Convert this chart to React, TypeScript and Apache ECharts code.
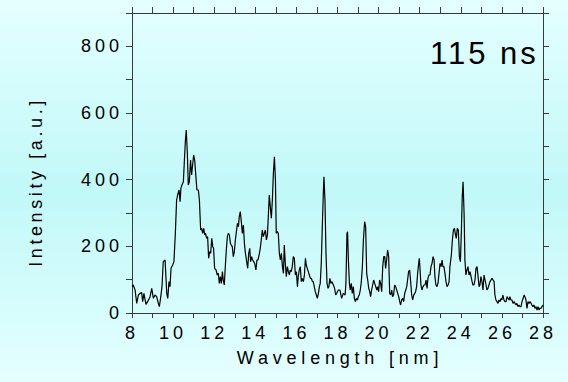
import React, { useEffect, useRef } from "react";
import * as echarts from "echarts";

// Spectrum readings [wavelength nm, intensity a.u.] in segments
const spectrum8to12: [number, number][] = [
  [8.0, 80], [8.06, 84], [8.15, 69], [8.23, 29], [8.31, 54], [8.39, 59], [8.47, 61], [8.52, 34],
  [8.58, 59], [8.68, 26], [8.76, 34], [8.88, 49], [8.96, 74], [9.04, 44], [9.12, 54], [9.2, 49],
  [9.28, 29], [9.33, 19], [9.39, 44], [9.46, 79], [9.52, 154], [9.61, 159], [9.69, 59], [9.74, 44],
  [9.8, 94], [9.85, 79], [9.9, 134], [9.98, 144], [10.04, 154], [10.11, 239], [10.17, 339], [10.22, 354],
  [10.29, 369], [10.34, 334], [10.38, 374], [10.43, 384], [10.5, 394], [10.55, 459], [10.6, 519], [10.64, 549],
  [10.69, 484], [10.74, 384], [10.79, 394], [10.85, 459], [10.9, 414], [10.95, 444], [11.0, 474], [11.05, 459],
  [11.11, 409], [11.16, 369], [11.23, 369], [11.28, 339], [11.34, 249], [11.39, 254], [11.44, 239], [11.49, 254],
  [11.54, 234], [11.58, 239], [11.63, 224], [11.68, 229], [11.73, 164], [11.78, 184], [11.83, 179], [11.88, 224],
  [11.93, 199], [11.97, 194],
];
const spectrum12to16: [number, number][] = [
  [12.02, 134], [12.09, 129], [12.15, 114], [12.2, 119], [12.25, 89], [12.3, 109], [12.35, 89], [12.4, 124],
  [12.44, 99], [12.49, 84], [12.54, 139], [12.59, 189], [12.64, 229], [12.69, 239], [12.74, 234], [12.79, 209],
  [12.83, 204], [12.88, 199], [12.93, 169], [12.98, 184], [13.03, 219], [13.08, 244], [13.13, 269], [13.18, 259],
  [13.22, 289], [13.27, 304], [13.32, 274], [13.37, 239], [13.42, 264], [13.47, 209], [13.51, 184], [13.58, 154],
  [13.63, 134], [13.68, 179], [13.73, 194], [13.77, 154], [13.82, 169], [13.87, 159], [13.92, 154], [13.97, 149],
  [14.03, 129], [14.08, 159], [14.13, 159], [14.2, 179], [14.24, 194], [14.29, 219], [14.34, 249], [14.39, 229],
  [14.44, 239], [14.49, 249], [14.54, 219], [14.59, 234], [14.64, 299], [14.68, 354], [14.73, 319], [14.78, 284],
  [14.83, 339], [14.88, 419], [14.93, 469], [14.98, 399], [15.02, 239], [15.07, 244], [15.12, 239], [15.17, 179],
  [15.22, 159], [15.27, 179], [15.32, 139], [15.37, 119], [15.41, 204], [15.46, 149], [15.51, 109], [15.56, 139],
  [15.61, 124], [15.66, 114], [15.7, 129], [15.75, 124], [15.8, 139], [15.85, 169], [15.9, 164], [15.95, 114],
];
const spectrum16to20: [number, number][] = [
  [16.0, 124], [16.05, 79], [16.09, 109], [16.14, 129], [16.19, 139], [16.24, 94], [16.29, 104], [16.34, 94],
  [16.39, 114], [16.44, 164], [16.48, 144], [16.53, 134], [16.58, 124], [16.63, 114], [16.68, 104], [16.73, 104],
  [16.78, 94], [16.82, 94], [16.87, 79], [16.92, 64], [16.97, 54], [17.02, 44], [17.07, 59], [17.12, 79],
  [17.16, 89], [17.21, 149], [17.26, 259], [17.31, 359], [17.34, 409], [17.39, 339], [17.44, 179], [17.49, 89],
  [17.54, 74], [17.58, 79], [17.63, 104], [17.68, 89], [17.73, 94], [17.8, 84], [17.86, 74], [17.91, 54],
  [17.96, 59], [18.04, 69], [18.12, 69], [18.2, 44], [18.28, 59], [18.37, 54], [18.41, 89], [18.46, 239],
  [18.49, 244], [18.53, 159], [18.58, 89], [18.62, 69], [18.67, 89], [18.72, 59], [18.77, 79], [18.82, 44],
  [18.87, 34], [18.92, 44], [18.97, 39], [19.01, 49], [19.06, 54], [19.11, 69], [19.16, 94], [19.21, 139],
  [19.26, 219], [19.32, 274], [19.37, 259], [19.42, 119], [19.47, 99], [19.52, 74], [19.57, 64], [19.61, 49],
  [19.66, 69], [19.71, 84], [19.76, 99], [19.81, 89], [19.86, 79], [19.91, 69], [19.95, 79],
];
const spectrum20to24: [number, number][] = [
  [20.0, 64], [20.05, 99], [20.1, 89], [20.15, 64], [20.2, 139], [20.25, 169], [20.3, 169], [20.34, 134],
  [20.39, 159], [20.44, 189], [20.49, 169], [20.54, 59], [20.59, 54], [20.64, 69], [20.68, 49], [20.73, 54],
  [20.78, 84], [20.83, 79], [20.88, 69], [20.93, 59], [20.98, 49], [21.03, 34], [21.07, 24], [21.12, 39],
  [21.17, 44], [21.22, 34], [21.27, 59], [21.32, 69], [21.37, 79], [21.41, 99], [21.46, 124], [21.51, 129],
  [21.56, 94], [21.61, 54], [21.66, 39], [21.71, 54], [21.76, 59], [21.8, 64], [21.85, 79], [21.9, 119],
  [21.95, 149], [21.98, 164], [22.01, 139], [22.06, 84], [22.11, 69], [22.16, 79], [22.21, 84], [22.26, 84],
  [22.31, 99], [22.36, 74], [22.4, 104], [22.45, 114], [22.5, 114], [22.55, 139], [22.6, 149], [22.65, 169],
  [22.7, 159], [22.74, 109], [22.79, 84], [22.84, 79], [22.89, 89], [22.94, 119], [22.99, 149], [23.04, 139],
  [23.09, 159], [23.13, 139], [23.18, 139], [23.23, 119], [23.28, 94], [23.33, 79], [23.38, 84], [23.43, 94],
  [23.47, 139], [23.54, 174], [23.59, 219], [23.64, 249], [23.69, 254], [23.73, 239], [23.78, 224], [23.83, 254],
  [23.88, 249], [23.93, 169], [23.98, 154],
];
const spectrum24to28: [number, number][] = [
  [24.03, 249], [24.07, 349], [24.11, 394], [24.16, 299], [24.2, 159], [24.25, 114], [24.3, 129], [24.35, 139],
  [24.4, 114], [24.45, 124], [24.5, 109], [24.55, 94], [24.59, 84], [24.64, 84], [24.69, 99], [24.74, 134],
  [24.79, 139], [24.84, 109], [24.89, 79], [24.93, 84], [24.98, 109], [25.03, 94], [25.08, 69], [25.13, 114],
  [25.18, 99], [25.23, 84], [25.27, 69], [25.32, 74], [25.37, 84], [25.42, 94], [25.47, 99], [25.52, 104],
  [25.57, 99], [25.62, 94], [25.66, 54], [25.71, 39], [25.76, 34], [25.81, 29], [25.86, 39], [25.91, 34],
  [25.96, 44], [26.0, 39], [26.05, 54], [26.1, 39], [26.15, 34], [26.2, 34], [26.25, 49], [26.3, 44],
  [26.35, 39], [26.39, 49], [26.44, 39], [26.49, 39], [26.54, 29], [26.59, 34], [26.64, 29], [26.69, 24],
  [26.73, 29], [26.78, 19], [26.83, 24], [26.88, 19], [26.93, 19], [26.98, 34], [27.03, 44], [27.08, 54],
  [27.12, 49], [27.17, 39], [27.22, 14], [27.27, 34], [27.32, 29], [27.37, 34], [27.42, 29], [27.46, 24],
  [27.51, 19], [27.56, 24], [27.61, 14], [27.66, 19], [27.71, 9], [27.76, 19], [27.81, 9], [27.85, 14],
  [27.9, 14], [27.95, 19], [28.0, 24],
];

const xRange = [8, 28];
const yRange = [0, 900];
const xLabelStep = 2;
const yLabelStep = 200;
const delayLabel = "115 ns";
const xTitle = "Wavelength [nm]";
const yTitle = "Intensity [a.u.]";

const FONT = "'Liberation Sans', Arial, sans-serif";
const AXIS_COLOR = "#3a3a3a";

export default function App() {
  const ref = useRef<HTMLDivElement>(null);

  useEffect(() => {
    const el = ref.current;
    if (!el) return;
    const chart = echarts.init(el, undefined, { renderer: "svg" });
    const data = [
      ...spectrum8to12,
      ...spectrum12to16,
      ...spectrum16to20,
      ...spectrum20to24,
      ...spectrum24to28,
    ];

    const axisLine = { show: true, onZero: false, lineStyle: { color: AXIS_COLOR, width: 1 } };
    const tick = (len: number) => ({
      show: true,
      inside: false,
      length: len,
      lineStyle: { color: AXIS_COLOR, width: 1 },
    });

    chart.setOption({
      animation: false,
      backgroundColor: "transparent",
      grid: { left: 132, right: 25, top: 13, bottom: 69, containLabel: false },
      xAxis: [
        {
          type: "value",
          min: xRange[0],
          max: xRange[1],
          interval: 1,
          position: "bottom",
          axisLine,
          axisTick: tick(5),
          splitLine: { show: false },
          axisLabel: {
            margin: 11,
            color: "#000",
            fontSize: 18,
            fontFamily: FONT,
            formatter: (v: number) => (v % xLabelStep === 0 ? String(v) : ""),
          },
        },
        {
          type: "value",
          min: xRange[0],
          max: xRange[1],
          interval: 1,
          position: "top",
          axisLine,
          axisTick: tick(6),
          splitLine: { show: false },
          axisLabel: { show: false },
        },
      ],
      yAxis: [
        {
          type: "value",
          min: yRange[0],
          max: yRange[1],
          interval: 100,
          position: "left",
          axisLine,
          axisTick: tick(6),
          splitLine: { show: false },
          axisLabel: {
            margin: 9,
            color: "#000",
            fontSize: 18,
            fontFamily: FONT,
            formatter: (v: number) => (v % yLabelStep === 0 ? String(v) : ""),
          },
        },
        {
          type: "value",
          min: yRange[0],
          max: yRange[1],
          interval: 100,
          position: "right",
          axisLine,
          axisTick: tick(6),
          splitLine: { show: false },
          axisLabel: { show: false },
        },
      ],
      series: [
        {
          type: "line",
          xAxisIndex: 0,
          yAxisIndex: 0,
          data,
          symbol: "none",
          showSymbol: false,
          silent: true,
          lineStyle: { color: "#000", width: 1.2 },
        },
      ],
      graphic: [
        {
          type: "text",
          x: 430,
          y: 53,
          style: {
            text: delayLabel,
            font: `31px ${FONT}`,
            fill: "#000",
            textAlign: "left",
            textVerticalAlign: "middle",
          },
        },
        {
          type: "text",
          x: 340,
          y: 358,
          style: {
            text: xTitle,
            font: `18px ${FONT}`,
            fill: "#000",
            textAlign: "center",
            textVerticalAlign: "middle",
          },
        },
        {
          type: "text",
          x: 36,
          y: 182,
          rotation: Math.PI / 2,
          style: {
            text: yTitle,
            font: `18px ${FONT}`,
            fill: "#000",
            textAlign: "center",
            textVerticalAlign: "middle",
          },
        },
      ],
    });

    const applySpacing = () => {
      el.querySelectorAll("text").forEach((t) => {
        const s = t.textContent || "";
        let ls = "4px";
        if (s === delayLabel) ls = "3px";
        else if (s === xTitle) ls = "4.8px";
        else if (s === yTitle) ls = "3.6px";
        (t as SVGTextElement).style.letterSpacing = ls;
      });
    };
    applySpacing();
    chart.on("finished", applySpacing);

    return () => {
      chart.dispose();
    };
  }, []);

  return (
    <div
      style={{
        position: "fixed",
        left: 0,
        top: 0,
        width: 568,
        height: 382,
        background: "linear-gradient(to bottom, #e4ffff 0%, #c2f8f8 50%, #e4ffff 100%)",
      }}
    >
      <div ref={ref} style={{ width: 568, height: 382 }} />
    </div>
  );
}
